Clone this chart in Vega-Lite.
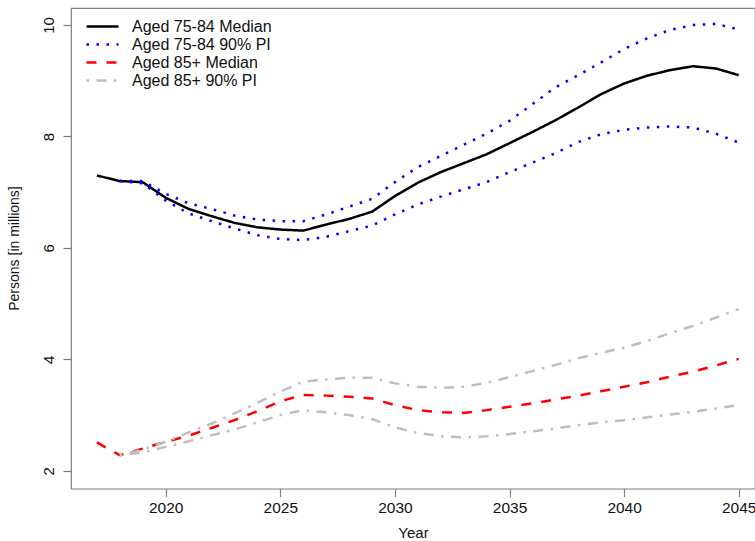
{
  "$schema": "https://vega.github.io/schema/vega-lite/v6.json",
  "autosize": "none",
  "width": 684,
  "height": 480.7,
  "padding": {"left": 71, "top": 8, "right": 0, "bottom": 52.3},
  "background": "white",
  "config": {
    "view": {"stroke": "#7f7f7f", "strokeWidth": 1.2},
    "font": "Liberation Sans",
    "axis": {"grid": false, "domain": false, "tickColor": "#7f7f7f", "tickSize": 8, "tickWidth": 1.2, "labelColor": "#111", "titleColor": "#111", "labelFont": "Liberation Sans", "titleFont": "Liberation Sans", "titleFontWeight": "normal"}
  },
  "datasets": {
    "d": [
      {"yr":2017,"v":7.30,"s":"Aged 75-84 Median","b":"m"},
      {"yr":2018,"v":7.20,"s":"Aged 75-84 Median","b":"m"},
      {"yr":2019,"v":7.18,"s":"Aged 75-84 Median","b":"m"},
      {"yr":2020,"v":6.90,"s":"Aged 75-84 Median","b":"m"},
      {"yr":2021,"v":6.70,"s":"Aged 75-84 Median","b":"m"},
      {"yr":2022,"v":6.57,"s":"Aged 75-84 Median","b":"m"},
      {"yr":2023,"v":6.45,"s":"Aged 75-84 Median","b":"m"},
      {"yr":2024,"v":6.37,"s":"Aged 75-84 Median","b":"m"},
      {"yr":2025,"v":6.33,"s":"Aged 75-84 Median","b":"m"},
      {"yr":2026,"v":6.31,"s":"Aged 75-84 Median","b":"m"},
      {"yr":2027,"v":6.42,"s":"Aged 75-84 Median","b":"m"},
      {"yr":2028,"v":6.52,"s":"Aged 75-84 Median","b":"m"},
      {"yr":2029,"v":6.65,"s":"Aged 75-84 Median","b":"m"},
      {"yr":2030,"v":6.93,"s":"Aged 75-84 Median","b":"m"},
      {"yr":2031,"v":7.17,"s":"Aged 75-84 Median","b":"m"},
      {"yr":2032,"v":7.36,"s":"Aged 75-84 Median","b":"m"},
      {"yr":2033,"v":7.52,"s":"Aged 75-84 Median","b":"m"},
      {"yr":2034,"v":7.68,"s":"Aged 75-84 Median","b":"m"},
      {"yr":2035,"v":7.88,"s":"Aged 75-84 Median","b":"m"},
      {"yr":2036,"v":8.08,"s":"Aged 75-84 Median","b":"m"},
      {"yr":2037,"v":8.29,"s":"Aged 75-84 Median","b":"m"},
      {"yr":2038,"v":8.52,"s":"Aged 75-84 Median","b":"m"},
      {"yr":2039,"v":8.76,"s":"Aged 75-84 Median","b":"m"},
      {"yr":2040,"v":8.95,"s":"Aged 75-84 Median","b":"m"},
      {"yr":2041,"v":9.09,"s":"Aged 75-84 Median","b":"m"},
      {"yr":2042,"v":9.19,"s":"Aged 75-84 Median","b":"m"},
      {"yr":2043,"v":9.26,"s":"Aged 75-84 Median","b":"m"},
      {"yr":2044,"v":9.22,"s":"Aged 75-84 Median","b":"m"},
      {"yr":2045,"v":9.10,"s":"Aged 75-84 Median","b":"m"},

      {"yr":2018,"v":7.20,"s":"Aged 75-84 90% PI","b":"hi"},
      {"yr":2019,"v":7.20,"s":"Aged 75-84 90% PI","b":"hi"},
      {"yr":2020,"v":6.97,"s":"Aged 75-84 90% PI","b":"hi"},
      {"yr":2021,"v":6.80,"s":"Aged 75-84 90% PI","b":"hi"},
      {"yr":2022,"v":6.70,"s":"Aged 75-84 90% PI","b":"hi"},
      {"yr":2023,"v":6.58,"s":"Aged 75-84 90% PI","b":"hi"},
      {"yr":2024,"v":6.51,"s":"Aged 75-84 90% PI","b":"hi"},
      {"yr":2025,"v":6.48,"s":"Aged 75-84 90% PI","b":"hi"},
      {"yr":2026,"v":6.48,"s":"Aged 75-84 90% PI","b":"hi"},
      {"yr":2027,"v":6.60,"s":"Aged 75-84 90% PI","b":"hi"},
      {"yr":2028,"v":6.74,"s":"Aged 75-84 90% PI","b":"hi"},
      {"yr":2029,"v":6.88,"s":"Aged 75-84 90% PI","b":"hi"},
      {"yr":2030,"v":7.18,"s":"Aged 75-84 90% PI","b":"hi"},
      {"yr":2031,"v":7.45,"s":"Aged 75-84 90% PI","b":"hi"},
      {"yr":2032,"v":7.65,"s":"Aged 75-84 90% PI","b":"hi"},
      {"yr":2033,"v":7.85,"s":"Aged 75-84 90% PI","b":"hi"},
      {"yr":2034,"v":8.05,"s":"Aged 75-84 90% PI","b":"hi"},
      {"yr":2035,"v":8.28,"s":"Aged 75-84 90% PI","b":"hi"},
      {"yr":2036,"v":8.58,"s":"Aged 75-84 90% PI","b":"hi"},
      {"yr":2037,"v":8.88,"s":"Aged 75-84 90% PI","b":"hi"},
      {"yr":2038,"v":9.10,"s":"Aged 75-84 90% PI","b":"hi"},
      {"yr":2039,"v":9.33,"s":"Aged 75-84 90% PI","b":"hi"},
      {"yr":2040,"v":9.57,"s":"Aged 75-84 90% PI","b":"hi"},
      {"yr":2041,"v":9.76,"s":"Aged 75-84 90% PI","b":"hi"},
      {"yr":2042,"v":9.91,"s":"Aged 75-84 90% PI","b":"hi"},
      {"yr":2043,"v":10.00,"s":"Aged 75-84 90% PI","b":"hi"},
      {"yr":2044,"v":10.02,"s":"Aged 75-84 90% PI","b":"hi"},
      {"yr":2045,"v":9.92,"s":"Aged 75-84 90% PI","b":"hi"},

      {"yr":2018,"v":7.20,"s":"Aged 75-84 90% PI","b":"lo"},
      {"yr":2019,"v":7.16,"s":"Aged 75-84 90% PI","b":"lo"},
      {"yr":2020,"v":6.85,"s":"Aged 75-84 90% PI","b":"lo"},
      {"yr":2021,"v":6.62,"s":"Aged 75-84 90% PI","b":"lo"},
      {"yr":2022,"v":6.48,"s":"Aged 75-84 90% PI","b":"lo"},
      {"yr":2023,"v":6.35,"s":"Aged 75-84 90% PI","b":"lo"},
      {"yr":2024,"v":6.23,"s":"Aged 75-84 90% PI","b":"lo"},
      {"yr":2025,"v":6.16,"s":"Aged 75-84 90% PI","b":"lo"},
      {"yr":2026,"v":6.14,"s":"Aged 75-84 90% PI","b":"lo"},
      {"yr":2027,"v":6.20,"s":"Aged 75-84 90% PI","b":"lo"},
      {"yr":2028,"v":6.30,"s":"Aged 75-84 90% PI","b":"lo"},
      {"yr":2029,"v":6.40,"s":"Aged 75-84 90% PI","b":"lo"},
      {"yr":2030,"v":6.60,"s":"Aged 75-84 90% PI","b":"lo"},
      {"yr":2031,"v":6.78,"s":"Aged 75-84 90% PI","b":"lo"},
      {"yr":2032,"v":6.92,"s":"Aged 75-84 90% PI","b":"lo"},
      {"yr":2033,"v":7.05,"s":"Aged 75-84 90% PI","b":"lo"},
      {"yr":2034,"v":7.18,"s":"Aged 75-84 90% PI","b":"lo"},
      {"yr":2035,"v":7.36,"s":"Aged 75-84 90% PI","b":"lo"},
      {"yr":2036,"v":7.53,"s":"Aged 75-84 90% PI","b":"lo"},
      {"yr":2037,"v":7.70,"s":"Aged 75-84 90% PI","b":"lo"},
      {"yr":2038,"v":7.90,"s":"Aged 75-84 90% PI","b":"lo"},
      {"yr":2039,"v":8.04,"s":"Aged 75-84 90% PI","b":"lo"},
      {"yr":2040,"v":8.12,"s":"Aged 75-84 90% PI","b":"lo"},
      {"yr":2041,"v":8.16,"s":"Aged 75-84 90% PI","b":"lo"},
      {"yr":2042,"v":8.18,"s":"Aged 75-84 90% PI","b":"lo"},
      {"yr":2043,"v":8.16,"s":"Aged 75-84 90% PI","b":"lo"},
      {"yr":2044,"v":8.05,"s":"Aged 75-84 90% PI","b":"lo"},
      {"yr":2045,"v":7.89,"s":"Aged 75-84 90% PI","b":"lo"},

      {"yr":2017,"v":2.51,"s":"Aged 85+ Median","b":"m"},
      {"yr":2018,"v":2.28,"s":"Aged 85+ Median","b":"m"},
      {"yr":2019,"v":2.40,"s":"Aged 85+ Median","b":"m"},
      {"yr":2020,"v":2.52,"s":"Aged 85+ Median","b":"m"},
      {"yr":2021,"v":2.63,"s":"Aged 85+ Median","b":"m"},
      {"yr":2022,"v":2.77,"s":"Aged 85+ Median","b":"m"},
      {"yr":2023,"v":2.91,"s":"Aged 85+ Median","b":"m"},
      {"yr":2024,"v":3.07,"s":"Aged 85+ Median","b":"m"},
      {"yr":2025,"v":3.25,"s":"Aged 85+ Median","b":"m"},
      {"yr":2026,"v":3.36,"s":"Aged 85+ Median","b":"m"},
      {"yr":2027,"v":3.35,"s":"Aged 85+ Median","b":"m"},
      {"yr":2028,"v":3.33,"s":"Aged 85+ Median","b":"m"},
      {"yr":2029,"v":3.30,"s":"Aged 85+ Median","b":"m"},
      {"yr":2030,"v":3.18,"s":"Aged 85+ Median","b":"m"},
      {"yr":2031,"v":3.09,"s":"Aged 85+ Median","b":"m"},
      {"yr":2032,"v":3.05,"s":"Aged 85+ Median","b":"m"},
      {"yr":2033,"v":3.04,"s":"Aged 85+ Median","b":"m"},
      {"yr":2034,"v":3.09,"s":"Aged 85+ Median","b":"m"},
      {"yr":2035,"v":3.15,"s":"Aged 85+ Median","b":"m"},
      {"yr":2036,"v":3.21,"s":"Aged 85+ Median","b":"m"},
      {"yr":2037,"v":3.28,"s":"Aged 85+ Median","b":"m"},
      {"yr":2038,"v":3.35,"s":"Aged 85+ Median","b":"m"},
      {"yr":2039,"v":3.43,"s":"Aged 85+ Median","b":"m"},
      {"yr":2040,"v":3.51,"s":"Aged 85+ Median","b":"m"},
      {"yr":2041,"v":3.59,"s":"Aged 85+ Median","b":"m"},
      {"yr":2042,"v":3.69,"s":"Aged 85+ Median","b":"m"},
      {"yr":2043,"v":3.78,"s":"Aged 85+ Median","b":"m"},
      {"yr":2044,"v":3.89,"s":"Aged 85+ Median","b":"m"},
      {"yr":2045,"v":4.01,"s":"Aged 85+ Median","b":"m"},

      {"yr":2018,"v":2.28,"s":"Aged 85+ 90% PI","b":"hi"},
      {"yr":2019,"v":2.38,"s":"Aged 85+ 90% PI","b":"hi"},
      {"yr":2020,"v":2.52,"s":"Aged 85+ 90% PI","b":"hi"},
      {"yr":2021,"v":2.69,"s":"Aged 85+ 90% PI","b":"hi"},
      {"yr":2022,"v":2.85,"s":"Aged 85+ 90% PI","b":"hi"},
      {"yr":2023,"v":3.03,"s":"Aged 85+ 90% PI","b":"hi"},
      {"yr":2024,"v":3.22,"s":"Aged 85+ 90% PI","b":"hi"},
      {"yr":2025,"v":3.42,"s":"Aged 85+ 90% PI","b":"hi"},
      {"yr":2026,"v":3.60,"s":"Aged 85+ 90% PI","b":"hi"},
      {"yr":2027,"v":3.64,"s":"Aged 85+ 90% PI","b":"hi"},
      {"yr":2028,"v":3.67,"s":"Aged 85+ 90% PI","b":"hi"},
      {"yr":2029,"v":3.67,"s":"Aged 85+ 90% PI","b":"hi"},
      {"yr":2030,"v":3.57,"s":"Aged 85+ 90% PI","b":"hi"},
      {"yr":2031,"v":3.51,"s":"Aged 85+ 90% PI","b":"hi"},
      {"yr":2032,"v":3.49,"s":"Aged 85+ 90% PI","b":"hi"},
      {"yr":2033,"v":3.51,"s":"Aged 85+ 90% PI","b":"hi"},
      {"yr":2034,"v":3.58,"s":"Aged 85+ 90% PI","b":"hi"},
      {"yr":2035,"v":3.68,"s":"Aged 85+ 90% PI","b":"hi"},
      {"yr":2036,"v":3.79,"s":"Aged 85+ 90% PI","b":"hi"},
      {"yr":2037,"v":3.90,"s":"Aged 85+ 90% PI","b":"hi"},
      {"yr":2038,"v":4.02,"s":"Aged 85+ 90% PI","b":"hi"},
      {"yr":2039,"v":4.12,"s":"Aged 85+ 90% PI","b":"hi"},
      {"yr":2040,"v":4.21,"s":"Aged 85+ 90% PI","b":"hi"},
      {"yr":2041,"v":4.33,"s":"Aged 85+ 90% PI","b":"hi"},
      {"yr":2042,"v":4.47,"s":"Aged 85+ 90% PI","b":"hi"},
      {"yr":2043,"v":4.60,"s":"Aged 85+ 90% PI","b":"hi"},
      {"yr":2044,"v":4.75,"s":"Aged 85+ 90% PI","b":"hi"},
      {"yr":2045,"v":4.90,"s":"Aged 85+ 90% PI","b":"hi"},

      {"yr":2018,"v":2.28,"s":"Aged 85+ 90% PI","b":"lo"},
      {"yr":2019,"v":2.33,"s":"Aged 85+ 90% PI","b":"lo"},
      {"yr":2020,"v":2.43,"s":"Aged 85+ 90% PI","b":"lo"},
      {"yr":2021,"v":2.53,"s":"Aged 85+ 90% PI","b":"lo"},
      {"yr":2022,"v":2.64,"s":"Aged 85+ 90% PI","b":"lo"},
      {"yr":2023,"v":2.74,"s":"Aged 85+ 90% PI","b":"lo"},
      {"yr":2024,"v":2.87,"s":"Aged 85+ 90% PI","b":"lo"},
      {"yr":2025,"v":3.00,"s":"Aged 85+ 90% PI","b":"lo"},
      {"yr":2026,"v":3.09,"s":"Aged 85+ 90% PI","b":"lo"},
      {"yr":2027,"v":3.05,"s":"Aged 85+ 90% PI","b":"lo"},
      {"yr":2028,"v":3.00,"s":"Aged 85+ 90% PI","b":"lo"},
      {"yr":2029,"v":2.93,"s":"Aged 85+ 90% PI","b":"lo"},
      {"yr":2030,"v":2.78,"s":"Aged 85+ 90% PI","b":"lo"},
      {"yr":2031,"v":2.68,"s":"Aged 85+ 90% PI","b":"lo"},
      {"yr":2032,"v":2.62,"s":"Aged 85+ 90% PI","b":"lo"},
      {"yr":2033,"v":2.60,"s":"Aged 85+ 90% PI","b":"lo"},
      {"yr":2034,"v":2.62,"s":"Aged 85+ 90% PI","b":"lo"},
      {"yr":2035,"v":2.66,"s":"Aged 85+ 90% PI","b":"lo"},
      {"yr":2036,"v":2.71,"s":"Aged 85+ 90% PI","b":"lo"},
      {"yr":2037,"v":2.76,"s":"Aged 85+ 90% PI","b":"lo"},
      {"yr":2038,"v":2.82,"s":"Aged 85+ 90% PI","b":"lo"},
      {"yr":2039,"v":2.87,"s":"Aged 85+ 90% PI","b":"lo"},
      {"yr":2040,"v":2.91,"s":"Aged 85+ 90% PI","b":"lo"},
      {"yr":2041,"v":2.96,"s":"Aged 85+ 90% PI","b":"lo"},
      {"yr":2042,"v":3.01,"s":"Aged 85+ 90% PI","b":"lo"},
      {"yr":2043,"v":3.06,"s":"Aged 85+ 90% PI","b":"lo"},
      {"yr":2044,"v":3.12,"s":"Aged 85+ 90% PI","b":"lo"},
      {"yr":2045,"v":3.18,"s":"Aged 85+ 90% PI","b":"lo"}
    ]
  },
  "data": {"name": "d"},
  "mark": {"type": "line", "strokeWidth": 2.5, "strokeCap": "butt", "strokeJoin": "round", "clip": true},
  "encoding": {
    "x": {
      "field": "yr", "type": "quantitative",
      "scale": {"domain": [2015.87, 2045.71], "nice": false, "zero": false},
      "axis": {"values": [2020, 2025, 2030, 2035, 2040, 2045], "format": "d", "title": "Year", "labelFontSize": 15.5, "labelPadding": 4, "titleFontSize": 15, "titlePadding": 9, "labelFlush": false}
    },
    "y": {
      "field": "v", "type": "quantitative",
      "scale": {"domain": [1.68, 10.305], "nice": false, "zero": false},
      "axis": {"values": [2, 4, 6, 8, 10], "title": "Persons [in millions]", "labelFontSize": 15, "labelAngle": -90, "labelAlign": "center", "labelBaseline": "alphabetic", "labelPadding": 10, "titleFontSize": 14, "titleX": -57, "titleY": 240, "titleAngle": -90, "titleAlign": "center", "titleBaseline": "middle"}
    },
    "color": {
      "field": "s", "type": "nominal",
      "scale": {"domain": ["Aged 75-84 Median", "Aged 75-84 90% PI", "Aged 85+ Median", "Aged 85+ 90% PI"], "range": ["#000000", "#0000ff", "#ff0000", "#bebebe"]},
      "legend": {"title": null, "orient": "none", "legendX": 22, "legendY": 9, "padding": 0, "symbolType": "M-2,0H2", "symbolSize": 256, "symbolStrokeWidth": 2.5, "symbolOffset": 0, "labelOffset": 20, "rowPadding": 0, "labelFontSize": 16, "labelColor": "#111", "labelFont": "Liberation Sans", "labelLimit": 300}
    },
    "strokeDash": {
      "field": "s", "type": "nominal",
      "scale": {"domain": ["Aged 75-84 Median", "Aged 75-84 90% PI", "Aged 85+ Median", "Aged 85+ 90% PI"], "range": [[1, 0], [2.5, 7.5], [10, 10], [2.5, 7.5, 10, 7.5]]},
      "legend": {"title": null}
    },
    "detail": {"field": "b", "type": "nominal"},
    "order": {"field": "yr", "type": "quantitative"}
  }
}
